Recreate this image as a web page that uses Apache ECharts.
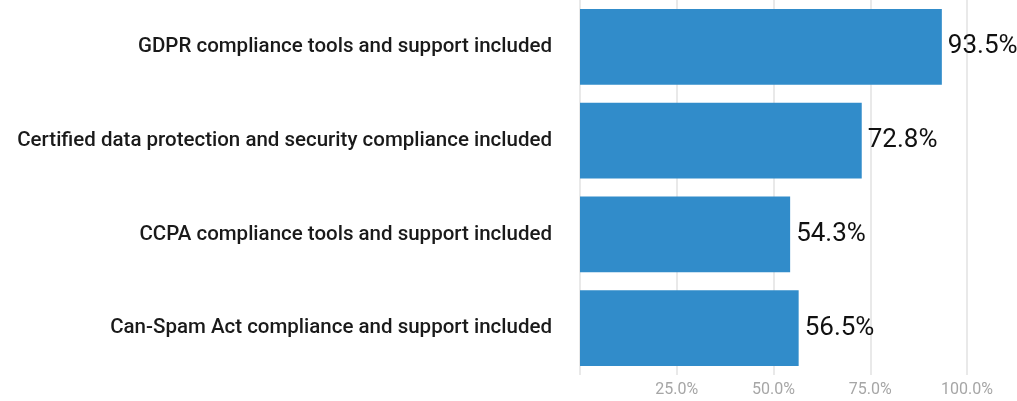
<!DOCTYPE html>
<html>
<head>
<meta charset="utf-8">
<style>
  html, body { margin: 0; padding: 0; background: #ffffff; }
  #chart { width: 1017px; height: 401px; }
</style>
<script src="https://cdn.jsdelivr.net/npm/echarts@6/dist/echarts.min.js"></script>
</head>
<body>
<div id="chart"></div>
<script>
// Compliance features, top to bottom
const categories = [
  'GDPR compliance tools and support included',
  'Certified data protection and security compliance included',
  'CCPA compliance tools and support included',
  'Can-Spam Act compliance and support included'
];
// Share of respondents (%)
const shares = [93.5, 72.8, 54.3, 56.5];
// Value axis ticks
const tickValues = [0, 25, 50, 75, 100];

const chart = echarts.init(document.getElementById('chart'), null, { renderer: 'canvas' });

chart.setOption({
  animation: false,
  backgroundColor: '#ffffff',
  grid: { left: 580, width: 387, top: 0, height: 375, containLabel: false },
  xAxis: {
    type: 'value',
    min: tickValues[0],
    max: tickValues[tickValues.length - 1],
    interval: tickValues[1] - tickValues[0],
    axisLine: { show: false },
    axisTick: { show: false },
    splitLine: { show: true, lineStyle: { color: '#e2e2e2', width: 1.5 } },
    axisLabel: {
      margin: 7,
      color: '#a6a6a6',
      fontFamily: 'Roboto',
      fontSize: 16,
      formatter: v => (v === 0 ? '' : v.toFixed(1) + '%')
    }
  },
  yAxis: {
    type: 'category',
    inverse: true,
    data: categories,
    axisLine: { show: false },
    axisTick: { show: false },
    axisLabel: {
      margin: 28,
      color: '#1a1a1a',
      fontFamily: 'Roboto',
      fontWeight: 500,
      fontSize: 20.5
    }
  },
  series: [{
    type: 'bar',
    data: shares,
    barCategoryGap: '19%',
    itemStyle: { color: '#318cca' },
    label: {
      show: true,
      position: 'right',
      distance: 6,
      color: '#111111',
      fontFamily: 'Roboto',
      fontSize: 26,
      formatter: p => p.value.toFixed(1) + '%'
    }
  }]
});
</script>
</body>
</html>
